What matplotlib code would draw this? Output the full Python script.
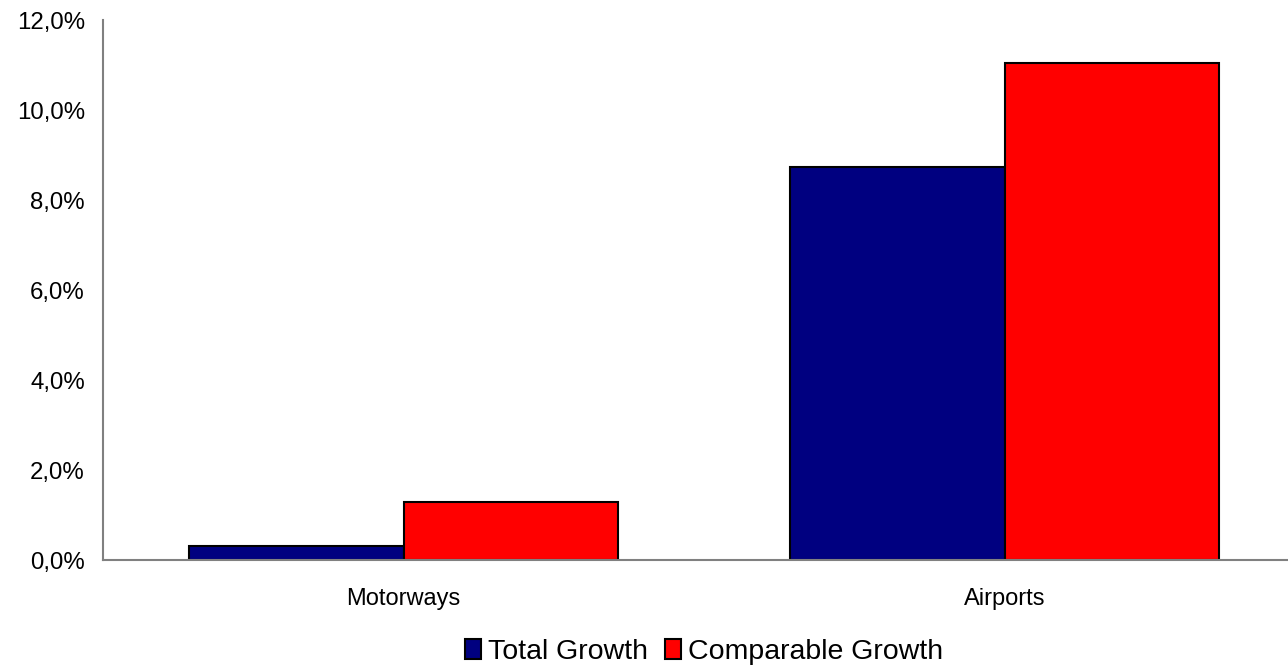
import matplotlib
matplotlib.use('Agg')
import matplotlib.pyplot as plt
from matplotlib.ticker import FuncFormatter
import numpy as np

categories = ['Motorways', 'Airports']
series_names = ['Total Growth', 'Comparable Growth']
total_growth = [0.31, 8.73]
comparable_growth = [1.29, 11.04]
y_ticks = [0, 2, 4, 6, 8, 10, 12]

colors = ['#000080', '#FF0000']

plt.rcParams['font.family'] = ['Liberation Sans', 'DejaVu Sans']

fig = plt.figure(figsize=(12.88, 6.69), dpi=100)
fig.patch.set_facecolor('white')
ax = fig.add_axes([103 / 1288, 109 / 669, 1202 / 1288, 540 / 669])

x = np.arange(len(categories))
w = 0.357
ax.bar(x - w / 2, total_growth, w, color=colors[0], edgecolor='black',
       linewidth=1.5, label=series_names[0])
ax.bar(x + w / 2, comparable_growth, w, color=colors[1], edgecolor='black',
       linewidth=1.5, label=series_names[1])

ax.set_xlim(-0.5, 1.5)
ax.set_ylim(0, 12)
ax.set_yticks(y_ticks)
ax.yaxis.set_major_formatter(FuncFormatter(lambda v, p: f'{v:.1f}%'.replace('.', ',')))
ax.set_xticks(x)
ax.set_xticklabels(categories)
ax.tick_params(axis='x', labelsize=17, length=0, pad=20)
ax.tick_params(axis='y', labelsize=17.3, length=0, pad=13)

for s in ['top', 'right']:
    ax.spines[s].set_visible(False)
for s in ['left', 'bottom']:
    ax.spines[s].set_color('#808080')
    ax.spines[s].set_linewidth(1.5)

fig.legend(loc='center', bbox_to_anchor=(704 / 1288, 1 - 652 / 669), ncol=2,
           frameon=False, prop={'size': 20.5},
           handlelength=0.57, handleheight=0.68, handletextpad=0.25,
           columnspacing=0.6, borderaxespad=0)

fig.savefig('out.png', dpi=100, facecolor='white')
